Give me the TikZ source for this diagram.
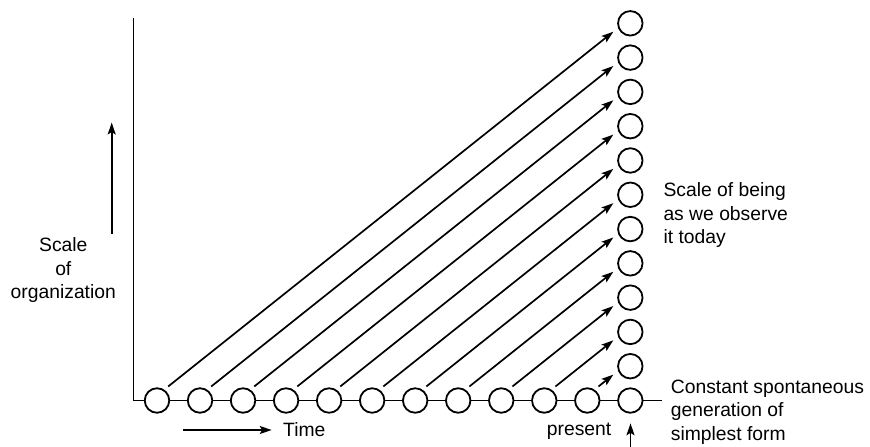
\documentclass[tikz,border=0pt]{standalone}
\usepackage{fontspec}
\setmainfont{Liberation Sans}
\usetikzlibrary{arrows.meta,calc}
\begin{document}
\begin{tikzpicture}[x=1pt,y=-1pt,
  ln/.style={line width=1.8pt},
  orb/.style={circle,draw,fill=white,line width=1.8pt,minimum size=24.5pt,inner sep=0pt},
  arr/.style={line width=1.7pt,-{Stealth[length=12pt,width=8pt,inset=2.5pt]}},
  lbl/.style={inner sep=0pt,font=\fontsize{19.3}{23.3}\selectfont},
]
\fill[white] (0,0) rectangle (870,447);
\useasboundingbox (0,0) rectangle (870,447);
% axes
\coordinate (top) at (133.5,18);
\coordinate (corner) at (133.5,400.5);
\coordinate (rend) at (661.7,400.5);
\draw[ln] (top) -- (corner) -- (rend);
% bottom row of circles
\foreach \k in {0,...,11}{
  \node[orb] (b\k) at ({157+43.03*\k},400.5) {};
}
% column of circles
\foreach \j in {1,...,11}{
  \node[orb] (c\j) at (630.3,{400.5-34.29*\j}) {};
}
% arrows
\foreach \k in {0,...,10}{
  \pgfmathtruncatemacro{\j}{11-\k}
  \draw[arr] ($(b\k)!17.5pt!(c\j)!4pt!90:(c\j)$) -- ($(c\j)!18.5pt!(b\k)!4pt!-90:(b\k)$);
}
% left arrow
\coordinate (la1) at (111.7,234);
\coordinate (la2) at (111.7,122.5);
\draw[arr] (la1) -- (la2);
% time arrow
\coordinate (ta1) at (182.7,430);
\coordinate (ta2) at (271.7,430);
\draw[arr] (ta1) -- (ta2);
% present arrow
\coordinate (pa1) at (630.5,450);
\coordinate (pa2) at (630.5,423.3);
\draw[arr] (pa1) -- (pa2);
% labels
\node[lbl,anchor=base] (so1) at (63.3,251.7) {Scale};
\node[lbl,anchor=base] (so2) at (63.3,275) {of};
\node[lbl,anchor=base] (so3) at (63.3,298.3) {organization};
\node[lbl,anchor=base west] (time) at (283,436.5) {Time};
\node[lbl,anchor=base west] (pres) at (546.7,435.5) {present};
\node[lbl,anchor=base west] (sb1) at (663.3,196.7) {Scale of being};
\node[lbl,anchor=base west] (sb2) at (663.3,220) {as we observe};
\node[lbl,anchor=base west] (sb3) at (663.3,243.3) {it today};
\node[lbl,anchor=base west] (cs1) at (670.7,393.3) {Constant spontaneous};
\node[lbl,anchor=base west] (cs2) at (670.7,416.7) {generation of};
\node[lbl,anchor=base west] (cs3) at (670.7,440) {simplest form};
\end{tikzpicture}
\end{document}
